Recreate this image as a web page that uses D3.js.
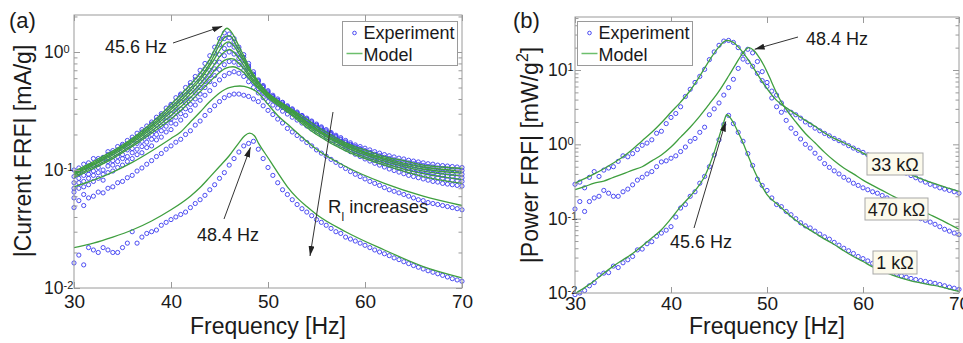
<!DOCTYPE html>
<html>
<head>
<meta charset="utf-8">
<script src="https://cdn.jsdelivr.net/npm/d3@7"></script>
<style>
  body { margin: 0; background: #fff; }
  svg { display: block; }
  text { font-family: Arial, "Liberation Sans", sans-serif; fill: #1a1a1a; }
</style>
</head>
<body>
<svg id="chart" width="963" height="343"></svg>
<script>
// ---- data ----
const xTicks = [30, 40, 50, 60, 70];

// sample frequencies of the measured points [Hz]
const freqExp = [
  30, 30.5, 31, 31.5, 32, 32.5, 33, 33.5, 34, 34.5, 35, 35.5, 36, 36.5, 37, 37.5, 38, 38.5, 39, 39.5,
  40, 40.5, 41, 41.5, 42, 42.5, 43, 43.5, 44, 44.5, 45, 45.5, 46, 46.5, 47, 47.5, 48, 48.5, 49, 49.5,
  50, 50.5, 51, 51.5, 52, 52.5, 53, 53.5, 54, 54.5, 55, 55.5, 56, 56.5, 57, 57.5, 58, 58.5, 59, 59.5,
  60, 60.5, 61, 61.5, 62, 62.5, 63, 63.5, 64, 64.5, 65, 65.5, 66, 66.5, 67, 67.5, 68, 68.5, 69, 69.5, 70
];

// (a) current FRF, measured [mA/g], one array per load resistance
const expA1 = [.1,.093,.112,.108,.125,.12,.128,.143,.14,.158, .16,.178,.18,.205,.21,.236,.245,.28,.29,.335,
  .35,.41,.43,.5,.55,.62,.7,.8,.93,1.1, 1.3,1.45,1.42,1.3,1.1,.95,.8,.68,.58,.52,
  .47,.43,.4,.375,.35,.33,.31,.29,.275,.26, .245,.232,.22,.208,.197,.188,.178,.17,.163,.158,
  .153,.148,.143,.139,.135,.132,.129,.126,.124,.121, .119,.117,.115,.113,.112,.11,.109,.108,.107,.106, .105];
const expA2 = [.088,.104,.1,.115,.11,.125,.124,.135,.146,.148, .165,.166,.19,.19,.22,.222,.255,.265,.3,.31,
  .36,.38,.44,.46,.52,.58,.64,.72,.82,.98, 1.15,1.3,1.32,1.22,1.05,.9,.76,.65,.57,.51,
  .46,.42,.39,.37,.345,.325,.305,.288,.27,.256, .24,.228,.215,.204,.193,.183,.173,.165,.158,.152,
  .146,.141,.136,.132,.128,.125,.122,.119,.117,.115, .113,.111,.109,.107,.106,.104,.103,.102,.101,.1, .099];
const expA3 = [.078,.095,.09,.1,.108,.112,.118,.125,.13,.14, .15,.158,.168,.175,.19,.2,.215,.24,.26,.28,
  .3,.34,.38,.41,.46,.5,.56,.62,.7,.82, .95,1.07,1.15,1.1,.97,.85,.73,.64,.56,.5,
  .45,.415,.385,.36,.338,.318,.3,.283,.266,.25, .236,.223,.21,.2,.19,.18,.17,.162,.155,.149,
  .143,.138,.133,.129,.125,.121,.118,.115,.113,.11, .108,.106,.104,.102,.1,.098,.097,.095,.094,.093, .092];
const expA4 = [.07,.085,.08,.092,.098,.105,.1,.118,.12,.13, .135,.148,.152,.168,.175,.19,.2,.22,.235,.26,
  .27,.31,.33,.37,.4,.45,.5,.56,.63,.72, .82,.93,1.0,.96,.88,.78,.68,.6,.53,.48,
  .44,.405,.375,.35,.33,.31,.29,.275,.258,.243, .23,.217,.205,.194,.183,.173,.164,.156,.149,.143,
  .137,.132,.127,.123,.119,.115,.112,.109,.106,.103, .101,.099,.097,.095,.093,.092,.09,.089,.088,.087, .086];
const expA5 = [.065,.078,.072,.085,.09,.095,.092,.108,.11,.118, .125,.13,.14,.15,.158,.172,.182,.2,.215,.235,
  .25,.28,.3,.33,.36,.4,.44,.5,.56,.63, .71,.78,.83,.82,.78,.7,.62,.55,.49,.45,
  .42,.39,.365,.34,.32,.3,.283,.267,.25,.235, .222,.21,.198,.187,.177,.167,.158,.15,.143,.137,
  .131,.126,.121,.117,.113,.11,.107,.104,.101,.098, .096,.094,.092,.09,.088,.086,.085,.083,.082,.081, .08];
const expA6 = [.058,.07,.062,.075,.08,.085,.082,.095,.098,.105, .11,.118,.125,.135,.14,.155,.16,.18,.19,.21,
  .22,.245,.265,.29,.32,.355,.39,.43,.47,.53, .58,.63,.66,.68,.66,.62,.56,.5,.45,.41,
  .38,.355,.335,.315,.298,.28,.265,.25,.236,.222, .21,.198,.187,.177,.168,.159,.151,.143,.136,.13,
  .124,.119,.114,.11,.106,.102,.099,.096,.093,.09, .088,.086,.084,.082,.08,.079,.077,.076,.075,.074, .073];
const expA7 = [.048,.055,.05,.058,.06,.065,.064,.07,.072,.078, .08,.086,.09,.098,.104,.112,.12,.13,.138,.15,
  .16,.172,.182,.2,.215,.24,.26,.29,.32,.35, .38,.41,.43,.44,.44,.43,.42,.4,.38,.35,
  .32,.295,.27,.25,.225,.21,.196,.183,.171,.16, .148,.139,.131,.123,.116,.109,.103,.097,.092,.088,
  .084,.08,.077,.074,.071,.068,.066,.064,.062,.06, .058,.056,.055,.053,.052,.051,.05,.049,.048,.047, .046];
const expA8 = [.0163,.019,.0157,.022,.021,.02,.022,.021,.02,.02, .022,.024,.03,.024,.027,.029,.03,.031,.034,.036,
  .038,.04,.042,.044,.048,.052,.056,.061,.068,.075, .085,.095,.11,.125,.142,.16,.168,.175,.15,.125,
  .105,.09,.078,.068,.062,.056,.051,.047,.044,.041, .038,.036,.034,.032,.03,.029,.027,.026,.025,.024,
  .023,.022,.021,.0202,.0195,.0188,.018,.0174,.0167,.0161, .0155,.015,.0145,.014,.0136,.0132,.0128,.0124,.012,.0117, .0114];

// (a) current FRF, model curves [f, mA/g]
const modelA1 = [[30,.097],[31,.107],[32,.118],[33,.131],[34,.145],[35,.163],[36,.185],[37,.214],[38,.25],[39,.298],[40,.36],[41,.435],[42,.53],[43,.66],[44,.87],[44.5,1.05],[45,1.28],[45.5,1.53],[45.75,1.59],[46,1.55],[46.5,1.36],[47,1.12],[47.5,.93],[48,.76],[48.5,.65],[49,.56],[50,.45],[51,.39],[52,.345],[53,.305],[54,.27],[55,.235],[56,.21],[58,.17],[60,.148],[62,.13],[64,.12],[66,.11],[68,.106],[70,.103]];
const modelA2 = [[30,.095],[32,.115],[34,.141],[36,.18],[38,.24],[40,.34],[42,.495],[43,.61],[44,.8],[44.5,.96],[45,1.15],[45.5,1.32],[45.85,1.37],[46.2,1.35],[46.5,1.23],[47,1.04],[47.5,.87],[48,.73],[49,.55],[50,.445],[52,.34],[55,.225],[58,.165],[62,.126],[66,.106],[70,.098]];
const modelA3 = [[30,.093],[32,.112],[34,.138],[36,.175],[38,.233],[40,.325],[42,.47],[43,.58],[44,.76],[44.5,.88],[45,1.03],[45.5,1.17],[45.95,1.22],[46.5,1.12],[47,.97],[47.5,.83],[48,.7],[49,.54],[50,.44],[52,.335],[55,.22],[58,.161],[62,.123],[66,.102],[70,.094]];
const modelA4 = [[30,.091],[32,.11],[34,.134],[36,.17],[38,.224],[40,.308],[42,.44],[43,.54],[44,.69],[44.5,.79],[45,.91],[45.5,1.0],[46.05,1.05],[46.5,.99],[47,.88],[47.5,.77],[48,.66],[49,.52],[50,.43],[52,.328],[55,.215],[58,.156],[62,.119],[66,.098],[70,.089]];
const modelA5 = [[30,.088],[32,.106],[34,.129],[36,.163],[38,.214],[40,.29],[42,.41],[43,.5],[44,.62],[44.5,.7],[45,.78],[45.5,.85],[46.15,.88],[46.5,.87],[47,.8],[47.5,.72],[48,.63],[49,.5],[50,.42],[52,.318],[55,.207],[58,.15],[62,.114],[66,.093],[70,.083]];
const modelA6 = [[30,.086],[32,.103],[34,.125],[36,.158],[38,.205],[40,.27],[42,.38],[43,.46],[44,.56],[45,.67],[45.5,.72],[46,.745],[46.4,.75],[47,.72],[47.5,.67],[48,.6],[49,.49],[50,.41],[52,.31],[55,.2],[58,.145],[62,.11],[66,.088],[70,.077]];
const modelA7 = [[30,.072],[32,.082],[34,.096],[36,.116],[38,.145],[40,.185],[41,.21],[42,.255],[43,.31],[44,.38],[45,.45],[46,.5],[47.1,.515],[48,.5],[49,.45],[50,.36],[51,.29],[52,.245],[55,.15],[58,.107],[62,.077],[66,.06],[70,.05]];
const modelA8 = [[30,.022],[32,.024],[34,.027],[36,.031],[38,.037],[40,.046],[42,.06],[43,.071],[44,.087],[45,.107],[46,.132],[47,.17],[47.6,.195],[48.1,.205],[48.6,.195],[49,.17],[50,.127],[51,.095],[52,.072],[53,.058],[54,.049],[55,.042],[58,.03],[62,.021],[66,.0152],[70,.0122]];

// (b) power FRF, measured [mW/g^2]
const expB33 = [.29,.31,.26,.36,.43,.37,.45,.48,.5,.59, .7,.68,.75,.85,.97,1.04,1.15,1.41,1.5,1.9,
  2.3,2.6,3.2,4.4,5.5,6.8,8.2,10.2,13.8,17.5, 21.5,24.5,25,23.5,20,16.5,12.9,11.2,9.0,7.2,
  6.0,5.2,4.6,3.6,2.9,2.7,2.5,2.25,2.0,1.83, 1.65,1.52,1.4,1.3,1.2,1.12,1.04,.96,.89,.83,
  .78,.72,.67,.62,.58,.54,.5,.47,.44,.41, .38,.355,.33,.31,.29,.275,.26,.25,.24,.23, .22];
const expB470 = [.135,.17,.125,.17,.19,.2,.24,.22,.2,.2, .23,.25,.285,.33,.36,.4,.43,.5,.58,.6,
  .65,.7,.8,.92,1.1,1.2,1.45,1.7,2.5,3.0, 3.6,4.6,5.8,7.5,10.5,14,19,17,13,9.5,
  6.8,4.2,3.2,2.7,2.1,1.65,1.4,1.18,1.0,.89, .76,.65,.55,.49,.44,.4,.36,.33,.3,.28,
  .26,.245,.23,.22,.205,.19,.175,.16,.145,.128, .115,.108,.1,.095,.09,.084,.078,.072,.068,.064, .061];
const expB1 = [.0095,.01,.0108,.0125,.0138,.0175,.0185,.0188,.023,.022, .0255,.028,.031,.038,.039,.046,.049,.058,.064,.07,
  .078,.105,.139,.155,.2,.23,.3,.37,.5,.72, 1.15,1.85,2.45,1.9,1.45,1.1,.75,.52,.34,.28,
  .24,.19,.155,.145,.125,.113,.1,.088,.08,.075, .068,.062,.057,.053,.048,.044,.04,.037,.034,.031,
  .029,.027,.025,.0235,.022,.0205,.019,.018,.017,.0163, .0157,.0152,.0147,.0143,.0139,.0135,.013,.0125,.012,.0116, .0112];

// (b) power FRF, model curves [f, mW/g^2]
const modelB33 = [[30,.3],[31,.345],[32,.4],[33,.47],[34,.56],[35,.68],[36,.86],[37,1.12],[38,1.45],[39,1.95],[40,2.7],[41,3.7],[42,5.3],[43,8.3],[44,13.5],[45,20.5],[45.8,25],[46.5,23.5],[47,20.5],[48,14],[49,8.8],[50,5.6],[51,3.9],[52,3.1],[53,2.55],[54,2.1],[55,1.75],[56,1.42],[57,1.2],[58,1.05],[59,.9],[60,.76],[61,.65],[62,.57],[63,.5],[64,.44],[65,.39],[66,.345],[67,.31],[68,.28],[69,.255],[70,.232]];
const modelB470 = [[30,.245],[31,.27],[32,.3],[33,.32],[34,.36],[35,.4],[36,.45],[37,.5],[38,.6],[39,.72],[40,.92],[41,1.25],[42,1.7],[43,2.4],[44,3.5],[45,5.2],[46,8.3],[46.7,11.7],[47.5,17],[48.1,20],[48.6,18.5],[49.3,14],[50,9.5],[50.5,6.8],[51,4.9],[51.5,3.7],[52,2.95],[53,2.0],[54,1.4],[55,1.05],[56,.78],[57,.6],[58,.48],[59,.4],[60,.33],[61,.28],[62,.24],[63,.205],[64,.175],[65,.15],[66,.13],[67,.113],[68,.098],[69,.084],[70,.072]];
const modelB1 = [[30,.0098],[31,.0118],[32,.0145],[33,.0185],[34,.023],[35,.028],[36,.034],[37,.043],[38,.055],[39,.071],[40,.1],[41,.145],[42,.2],[43,.29],[43.5,.37],[44,.52],[44.5,.78],[45,1.25],[45.5,2.0],[45.8,2.5],[46.2,2.25],[46.5,1.95],[47,1.45],[47.5,1.05],[48,.72],[48.5,.5],[49,.36],[49.5,.27],[50,.21],[51,.16],[52,.122],[53,.095],[54,.077],[55,.064],[56,.053],[57,.045],[58,.037],[59,.031],[60,.0265],[61,.0225],[62,.0198],[63,.0175],[64,.0158],[65,.0146],[66,.0137],[67,.0129],[68,.0122],[69,.0113],[70,.0105]];

const loadLabels = ['33 k\u03A9', '470 k\u03A9', '1 k\u03A9'];

// ---- drawing ----
const BLUE = '#3a3af0';
const GREEN = '#3f9f3f';
const GRAY = '#9a9a9a';

const svg = d3.select('#chart');
const defs = svg.append('defs');
defs.append('marker')
    .attr('id', 'arrow')
    .attr('viewBox', '0 0 10 6')
    .attr('refX', 10).attr('refY', 3)
    .attr('markerWidth', 10).attr('markerHeight', 6)
    .attr('markerUnits', 'userSpaceOnUse')
    .attr('orient', 'auto')
    .append('path')
    .attr('d', 'M0,0L10,3L0,6z')
    .attr('fill', '#222');

function drawPanel(p) {
    const x = d3.scaleLinear().domain([30, 70]).range([p.left, p.right]);
    const y = d3.scaleLog().domain(p.yDomain).range([p.bottom, p.top]);

    defs.append('clipPath').attr('id', 'clip-' + p.id)
        .append('rect')
        .attr('x', p.left).attr('y', p.top)
        .attr('width', p.right - p.left).attr('height', p.bottom - p.top);

    const g = svg.append('g');

    // measured points
    p.exp.forEach(vals => {
        g.append('g').selectAll('circle')
            .data(vals.map((v, i) => [freqExp[i], v]))
            .join('circle')
            .attr('cx', d => x(d[0]))
            .attr('cy', d => y(d[1]))
            .attr('r', 2.1)
            .attr('fill', 'none')
            .attr('stroke', BLUE)
            .attr('stroke-width', 0.9);
    });

    // model curves
    const line = d3.line()
        .x(d => x(d[0]))
        .y(d => y(d[1]))
        .curve(d3.curveMonotoneX);
    g.append('g').attr('clip-path', `url(#clip-${p.id})`)
        .selectAll('path')
        .data(p.models)
        .join('path')
        .attr('d', line)
        .attr('fill', 'none')
        .attr('stroke', GREEN)
        .attr('stroke-width', 1.3);

    // axes, MATLAB style: ticks pointing inward on all four sides
    const yAll = y.ticks();
    const yMajor = yAll.filter(v => Math.abs(Math.log10(v) - Math.round(Math.log10(v))) < 1e-9);
    const yMinor = yAll.filter(v => !yMajor.includes(v));

    const ax = svg.append('g').attr('class', 'axes');
    const styleAxis = sel => {
        sel.select('.domain').remove();
        sel.selectAll('.tick line').attr('stroke', GRAY);
    };

    ax.append('g').attr('transform', `translate(0,${p.bottom})`)
        .call(d3.axisBottom(x).tickValues(xTicks).tickSizeInner(-6).tickSizeOuter(0).tickPadding(p.xPad))
        .call(styleAxis)
        .call(s => s.selectAll('.tick text').attr('font-size', 19).attr('font-family', 'Arial, "Liberation Sans", sans-serif').attr('fill', '#1a1a1a'));
    ax.append('g').attr('transform', `translate(0,${p.top})`)
        .call(d3.axisTop(x).tickValues(xTicks).tickSizeInner(-6).tickSizeOuter(0).tickFormat(''))
        .call(styleAxis);

    [[d3.axisLeft, p.left], [d3.axisRight, p.right]].forEach(([axis, pos]) => {
        ax.append('g').attr('transform', `translate(${pos},0)`)
            .call(axis(y).tickValues(yMinor).tickSizeInner(-3.5).tickSizeOuter(0).tickFormat(''))
            .call(styleAxis);
        ax.append('g').attr('transform', `translate(${pos},0)`)
            .call(axis(y).tickValues(yMajor).tickSizeInner(-6).tickSizeOuter(0).tickFormat(''))
            .call(styleAxis);
    });

    // y tick labels as 10 with a superscript exponent
    ax.append('g').selectAll('text')
        .data(yMajor)
        .join('text')
        .attr('x', p.labelX)
        .attr('y', d => y(d) + 6)
        .attr('font-size', 17.5)
        .each(function (d) {
            const t = d3.select(this);
            t.append('tspan').text('10');
            t.append('tspan').attr('font-size', 11).attr('dy', -5).text(String(Math.round(Math.log10(d))));
        });

    // frame
    ax.append('rect')
        .attr('x', p.left).attr('y', p.top)
        .attr('width', p.right - p.left).attr('height', p.bottom - p.top)
        .attr('fill', 'none').attr('stroke', GRAY).attr('stroke-width', 1);

    // axis titles
    svg.append('text')
        .attr('x', (p.left + p.right) / 2).attr('y', 334)
        .attr('text-anchor', 'middle').attr('font-size', 23)
        .text('Frequency [Hz]');

    const yl = svg.append('text')
        .attr('transform', `translate(${p.yTitleX},${p.yTitleY}) rotate(-90)`)
        .attr('text-anchor', 'middle').attr('font-size', 23);
    p.yTitle.forEach(part => {
        const ts = yl.append('tspan').text(part.t);
        if (part.sup) ts.attr('font-size', 16).attr('dy', -10);
        if (part.after) ts.attr('dy', 10);
    });

    // panel letter
    svg.append('text')
        .attr('x', p.letterX).attr('y', 28)
        .attr('font-family', '"Times New Roman", "Liberation Serif", serif')
        .attr('font-size', 22)
        .text(p.letter);

    // legend
    const lg = svg.append('g').attr('transform', `translate(${p.legend[0]},${p.legend[1]})`);
    lg.append('rect').attr('width', 115).attr('height', 44)
        .attr('fill', '#fff').attr('stroke', GRAY).attr('stroke-width', 1);
    lg.append('circle').attr('cx', 12).attr('cy', 11.5).attr('r', 1.8)
        .attr('fill', 'none').attr('stroke', BLUE).attr('stroke-width', 0.9);
    lg.append('text').attr('x', 21).attr('y', 17.5).attr('font-size', 18).text('Experiment');
    lg.append('line').attr('x1', 4).attr('x2', 20).attr('y1', 32).attr('y2', 32)
        .attr('stroke', '#6cbf6c').attr('stroke-width', 1.5);
    lg.append('text').attr('x', 21).attr('y', 39).attr('font-size', 18).text('Model');

    return { x, y };
}

function arrow(x1, y1, x2, y2) {
    svg.append('line')
        .attr('x1', x1).attr('y1', y1).attr('x2', x2).attr('y2', y2)
        .attr('stroke', '#333').attr('stroke-width', 1)
        .attr('marker-end', 'url(#arrow)');
}

function note(x, y, txt, size = 18) {
    return svg.append('text').attr('x', x).attr('y', y).attr('font-size', size).text(txt);
}

// panel (a)
const pa = drawPanel({
    id: 'a', left: 74, right: 462, top: 15, bottom: 288, xPad: 7,
    yDomain: [0.01, Math.pow(10, 37 / 118)],
    exp: [expA1, expA2, expA3, expA4, expA5, expA6, expA7, expA8],
    models: [modelA1, modelA2, modelA3, modelA4, modelA5, modelA6, modelA7, modelA8],
    labelX: 44, yTitleX: 31, yTitleY: 151,
    yTitle: [{ t: '|Current FRF| [mA/g]' }],
    letter: '(a)', letterX: 9,
    legend: [342.5, 21.5]
});

// panel (b)
const pb = drawPanel({
    id: 'b', left: 575, right: 959, top: 17, bottom: 293, xPad: 4,
    yDomain: [0.01, Math.pow(10, 1 + 53 / 74.33)],
    exp: [expB33, expB470, expB1],
    models: [modelB33, modelB470, modelB1],
    labelX: 548, yTitleX: 538, yTitleY: 155,
    yTitle: [{ t: '|Power FRF| [mW/g' }, { t: '2', sup: true }, { t: ']', after: true }],
    letter: '(b)', letterX: 513,
    legend: [577.5, 21.5]
});

// annotations (a)
note(105, 53, '45.6 Hz');
arrow(173, 43, pa.x(45.6) - 3, pa.y(1.62) - 1);
note(197, 241, '48.4 Hz');
arrow(224, 219, pa.x(48.4) - 2, pa.y(0.175) + 6);
const rl = note(328, 213, 'R', 18.5);
rl.append('tspan').attr('font-size', 12).attr('dy', 8).text('l');
rl.append('tspan').attr('dy', -8).text(' increases');
arrow(333, 112, 310, 256);

// annotations (b)
note(806, 45, '48.4 Hz');
arrow(798, 37, pb.x(48.4) + 3, pb.y(19));
note(670, 248, '45.6 Hz');
arrow(694, 228, pb.x(45.6) + 1, pb.y(2.3) + 4);

// load-resistance tags in (b)
const tags = [
    { i: 0, x: 867, y: 153, w: 56, h: 22 },
    { i: 1, x: 865, y: 198, w: 63, h: 22 },
    { i: 2, x: 873, y: 251, w: 44, h: 23 }
];
tags.forEach(t => {
    svg.append('rect').attr('x', t.x).attr('y', t.y).attr('width', t.w).attr('height', t.h)
        .attr('fill', '#fcfaec').attr('stroke', '#a8a8a8').attr('stroke-width', 1);
    svg.append('text').attr('x', t.x + t.w / 2).attr('y', t.y + t.h / 2 + 6.5)
        .attr('text-anchor', 'middle').attr('font-size', 18).text(loadLabels[t.i]);
});
</script>
</body>
</html>
